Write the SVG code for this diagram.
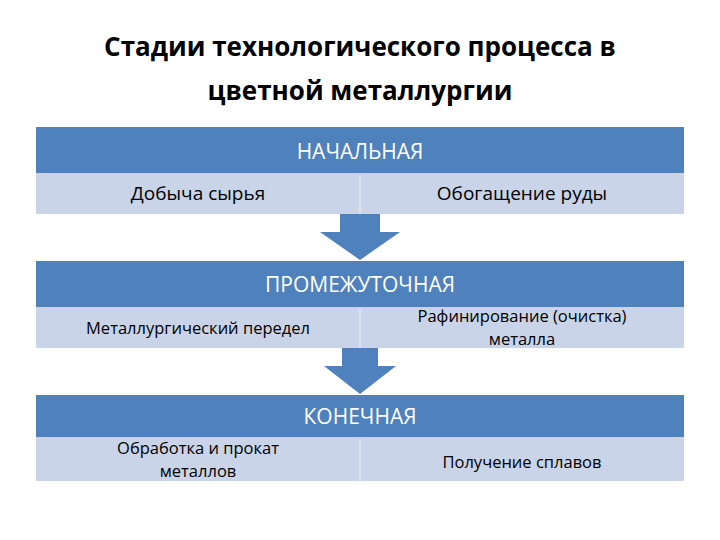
<svg xmlns="http://www.w3.org/2000/svg" width="720" height="540" viewBox="0 0 720 540">
<style>
text{font-family:"Open Sans","Noto Sans",sans-serif;fill:#000}
.t{font-size:26px;font-weight:bold;text-anchor:middle}
.h{fill:#4f81bd}
.l{fill:#c9d4e8}
.ht{font-size:21px;fill:#fff;text-anchor:middle}
.c{font-size:19px;text-anchor:middle}
.s{font-size:16.5px;text-anchor:middle}
.d{stroke:#dfe6f2;stroke-width:1.5}
.a{fill:#4f81bd}
</style>
<rect width="720" height="540" fill="#fff"/>
<g id="title"><text class="t" x="360" y="56">Стадии технологического процесса в</text><text class="t" x="360" y="100">цветной металлургии</text></g>
<g id="connectors">
<path class="a" d="M340,214H380V232H400L360,260L320,232H340Z"/>
<path class="a" d="M342,348H378V366H396L360,394L324,366H342Z"/>
</g>
<g id="stage1">
<rect class="h" x="36" y="127" width="648" height="46"/>
<text class="ht" x="360" y="159">НАЧАЛЬНАЯ</text>
<rect class="l" x="36" y="173" width="648" height="41"/>
<line class="d" x1="360" y1="175" x2="360" y2="214"/>
<text class="c" x="198" y="200">Добыча сырья</text>
<text class="c" x="522" y="200">Обогащение руды</text>
</g>
<g id="stage2">
<rect class="h" x="36" y="261" width="648" height="46"/>
<text class="ht" x="360" y="292">ПРОМЕЖУТОЧНАЯ</text>
<rect class="l" x="36" y="307" width="648" height="41"/>
<line class="d" x1="360" y1="309" x2="360" y2="348"/>
<text class="s" x="198" y="334">Металлургический передел</text>
<text class="s" x="522" y="322">Рафинирование (очистка)</text>
<text class="s" x="522" y="345">металла</text>
</g>
<g id="stage3">
<rect class="h" x="36" y="395" width="648" height="42"/>
<text class="ht" x="360" y="424">КОНЕЧНАЯ</text>
<rect class="l" x="36" y="437" width="648" height="44"/>
<line class="d" x1="360" y1="439" x2="360" y2="481"/>
<text class="s" x="198" y="454">Обработка и прокат</text>
<text class="s" x="198" y="477">металлов</text>
<text class="s" x="522" y="468">Получение сплавов</text>
</g>
</svg>
